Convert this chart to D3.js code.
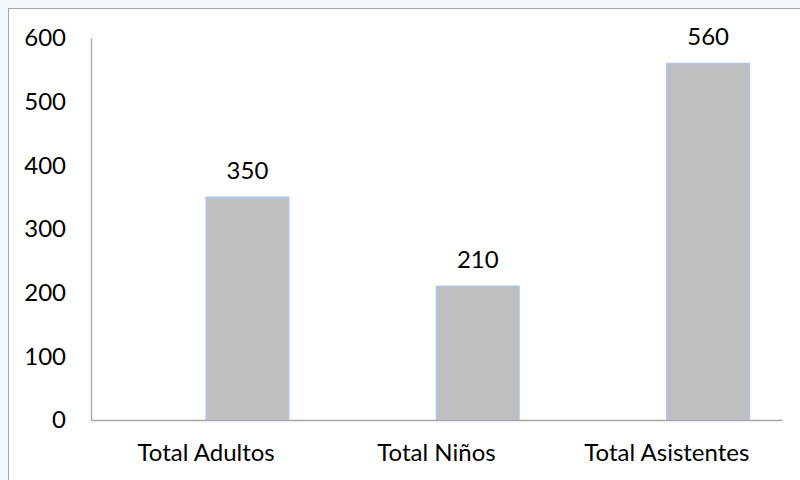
<!DOCTYPE html>
<html>
<head>
<meta charset="utf-8">
<script src="https://cdn.jsdelivr.net/npm/d3@7"></script>
<style>
  body { margin: 0; background: #f2f8fb; }
  text { font-family: Lato, "Open Sans", sans-serif; fill: #000; }
</style>
</head>
<body>
<div id="chart"></div>
<script>
// categories and values
var categories = ["Total Adultos", "Total Niños", "Total Asistentes"];
var seriesKeys = ["blank", "valor"];
var blankValues = [0, 0, 0];
var values = [350, 210, 560];
var yTicks = [0, 100, 200, 300, 400, 500, 600];

var W = 800, H = 480;
var margin = { top: 38, right: 18, bottom: 60, left: 91 };
var width = W - margin.left - margin.right,
    height = H - margin.top - margin.bottom;

var svg = d3.select("#chart").append("svg")
    .attr("width", W)
    .attr("height", H);

// chart area with thin border
svg.append("rect")
    .attr("x", 8.5).attr("y", 8.5)
    .attr("width", W).attr("height", H)
    .attr("fill", "#fff")
    .attr("stroke", "#a6a6a6")
    .attr("stroke-width", 1);

var g = svg.append("g")
    .attr("transform", "translate(" + margin.left + "," + margin.top + ")");

var x0 = d3.scaleBand().domain(categories).range([0, width]).paddingInner(0).paddingOuter(0);
var x1 = d3.scaleBand().domain(seriesKeys).range([0, x0.bandwidth()]).paddingInner(0).paddingOuter(0.395);
var y = d3.scaleLinear().domain([0, 600]).range([height, 0]);

var data = categories.map(function(c, i) {
    return { cat: c, blank: blankValues[i], valor: values[i] };
});

// bars (only the visible series)
g.selectAll(".bar").data(data).enter().append("rect")
    .attr("class", "bar")
    .attr("x", function(d) { return x0(d.cat) + x1("valor"); })
    .attr("y", function(d) { return y(d.valor); })
    .attr("width", x1.bandwidth())
    .attr("height", function(d) { return height - y(d.valor); })
    .attr("fill", "#bfbfbf")
    .attr("stroke", "#b4c3ee")
    .attr("stroke-width", 1.5);

// value labels
g.selectAll(".lbl").data(data).enter().append("text")
    .attr("class", "lbl")
    .attr("x", function(d) { return x0(d.cat) + x1("valor") + x1.bandwidth() / 2; })
    .attr("y", function(d) { return y(d.valor) - 18; })
    .attr("text-anchor", "middle")
    .style("font-size", "24px")
    .text(function(d) { return d.valor; });

// y axis
var yAxis = d3.axisLeft(y).tickValues(yTicks).tickSize(0).tickPadding(25);
var ya = g.append("g").call(yAxis);
ya.select(".domain").attr("stroke", "#a6a6a6").attr("stroke-width", 1.3);
ya.selectAll("text").style("font-size", "24px").style("font-family", "Lato, 'Open Sans', sans-serif");

// x axis
var xAxis = d3.axisBottom(x0).tickSize(0).tickPadding(24);
var xa = g.append("g").attr("transform", "translate(0," + height + ")").call(xAxis);
xa.select(".domain").attr("stroke", "#a6a6a6").attr("stroke-width", 1.3);
xa.selectAll("text").style("font-size", "24px").style("font-family", "Lato, 'Open Sans', sans-serif");
</script>
</body>
</html>
